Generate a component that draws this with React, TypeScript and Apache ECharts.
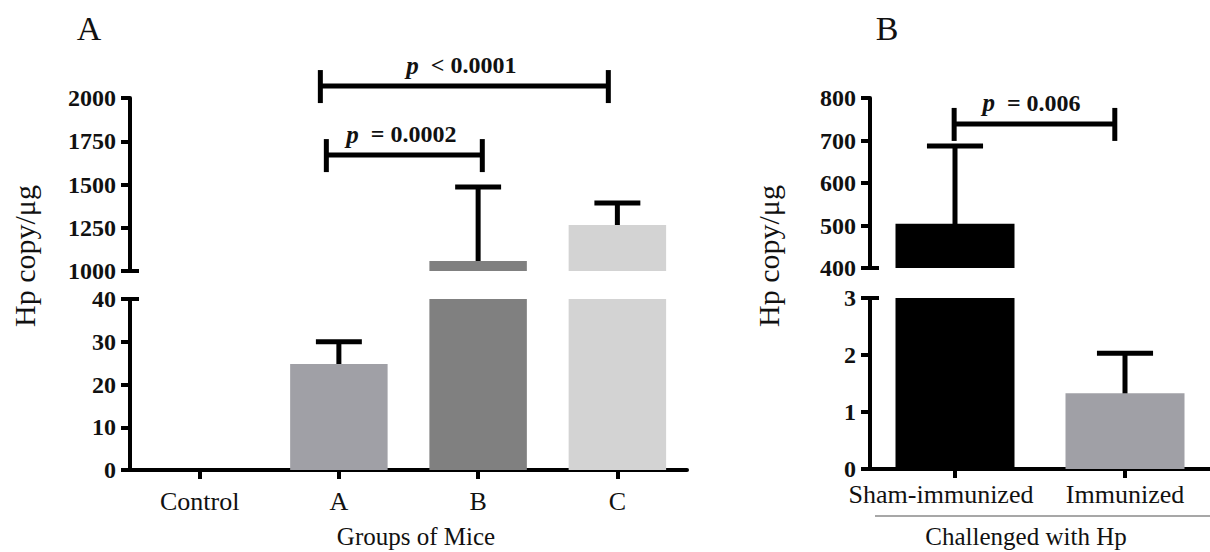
import React, { useEffect, useRef } from 'react';
import * as echarts from 'echarts';

// ---------- data ----------
const groupsA = ['Control', 'A', 'B', 'C'];
const meansA = [0, 24.8, 1058, 1266];
const upperA = [0, 30, 1486, 1393];
const colorsA = ['#ffffff', '#a0a0a6', '#808080', '#d3d3d3'];

const groupsB = ['Sham-immunized', 'Immunized'];
const meansB = [504, 1.33];
const upperB = [687, 2.03];
const colorsB = ['#000000', '#a0a0a6'];

// axis ranges [min, max, interval]
const rangeATop = [1000, 2000, 250];
const rangeABottom = [0, 40, 10];
const rangeBTop = [400, 800, 100];
const rangeBBottom = [0, 3, 1];

// significance brackets: from / to are category positions, y in data units
const bracketsAFrom = [0.867, 0.91];
const bracketsATo = [2.935, 2.03];
const bracketsAY = [2069, 1670];
const bracketsALabel = ['< 0.0001', '= 0.0002'];

const bracketsBFrom = [-0.005];
const bracketsBTo = [0.94];
const bracketsBY = [739];
const bracketsBLabel = ['= 0.006'];

// ---------- layout ----------
const FONT = '"Liberation Serif", "Times New Roman", serif';
const GA_TOP = { left: 130, top: 98, width: 557, height: 173 };
const GA_BOT = { left: 130, top: 299, width: 557, height: 171 };
const GB_TOP = { left: 870, top: 98, width: 346, height: 170 };
const GB_BOT = { left: 870, top: 298, width: 346, height: 171 };

function yAxisFor(gridIndex: number, r: number[]) {
  return {
    type: 'value',
    gridIndex,
    min: r[0],
    max: r[1],
    interval: r[2],
    splitLine: { show: false },
    axisLine: { show: true, lineStyle: { color: '#000', width: 4 } },
    axisTick: { show: true, length: 9, lineStyle: { color: '#000', width: 4 } },
    axisLabel: {
      color: '#111',
      fontFamily: FONT,
      fontWeight: 'bold',
      fontSize: 24,
      margin: 14,
      formatter: (v: number) => String(v),
    },
  };
}

function xAxisFor(gridIndex: number, cats: any[], show: boolean, labelMargin: number) {
  return {
    type: 'category',
    gridIndex,
    data: cats,
    show,
    axisLine: { show: true, onZero: false, lineStyle: { color: '#000', width: 4 } },
    axisTick: { show: true, alignWithLabel: true, length: 9, lineStyle: { color: '#000', width: 4 } },
    axisLabel: { color: '#111', fontFamily: FONT, fontSize: 26, margin: labelMargin, interval: 0 },
  };
}

function barSeries(gridIndex: number, means: number[], colors: string[]) {
  return {
    type: 'bar',
    xAxisIndex: gridIndex,
    yAxisIndex: gridIndex,
    barWidth: '70%',
    clip: true,
    data: means.map((v, i) => ({ value: v, itemStyle: { color: colors[i] } })),
  };
}

function errorSeries(gridIndex: number, means: number[], upper: number[], r: number[]) {
  const data: number[][] = [];
  means.forEach((m, i) => {
    if (upper[i] > m && m >= r[0] && m <= r[1]) data.push([i, m, upper[i]]);
  });
  return {
    type: 'custom',
    xAxisIndex: gridIndex,
    yAxisIndex: gridIndex,
    clip: false,
    data,
    renderItem: (params: any, api: any) => {
      const x = api.value(0);
      const lo = api.coord([x, api.value(1)]);
      const hi = api.coord([x, api.value(2)]);
      const bw = api.size([1, 0])[0];
      const half = bw * 0.165;
      const st = { stroke: '#000', lineWidth: 5 };
      return {
        type: 'group',
        children: [
          { type: 'line', shape: { x1: lo[0], y1: lo[1] + 2, x2: hi[0], y2: hi[1] }, style: st },
          { type: 'line', shape: { x1: hi[0] - half, y1: hi[1], x2: hi[0] + half, y2: hi[1] }, style: st },
        ],
      };
    },
  };
}

function bracketSeries(gridIndex: number, from: number[], to: number[], ys: number[], labels: string[]) {
  return {
    type: 'custom',
    xAxisIndex: gridIndex,
    yAxisIndex: gridIndex,
    clip: false,
    data: from.map((f, i) => [f, to[i], ys[i]]),
    renderItem: (params: any, api: any) => {
      const y = api.value(2);
      const bw = api.size([1, 0])[0];
      const toPx = (v: number) => {
        const i = Math.round(v);
        const p = api.coord([i, y]);
        return [p[0] + (v - i) * bw, p[1]];
      };
      const a = toPx(api.value(0));
      const b = toPx(api.value(1));
      const st = { stroke: '#000', lineWidth: 5 };
      const cx = (a[0] + b[0]) / 2 - 3;
      return {
        type: 'group',
        children: [
          { type: 'line', shape: { x1: a[0], y1: a[1], x2: b[0], y2: b[1] }, style: st },
          { type: 'line', shape: { x1: a[0], y1: a[1] - 16, x2: a[0], y2: a[1] + 17 }, style: st },
          { type: 'line', shape: { x1: b[0], y1: b[1] - 16, x2: b[0], y2: b[1] + 17 }, style: st },
          {
            type: 'text',
            x: cx,
            y: a[1] - 21,
            style: {
              text: '{i|p}  {n|' + labels[params.dataIndex] + '}',
              align: 'center',
              verticalAlign: 'middle',
              fontFamily: FONT,
              fontWeight: 'bold',
              fontSize: 24,
              rich: {
                i: { fontFamily: FONT, fontStyle: 'italic', fontWeight: 'bold', fontSize: 25, fill: '#111' },
                n: { fontFamily: FONT, fontWeight: 'bold', fontSize: 24, fill: '#111' },
              },
            },
          },
        ],
      };
    },
  };
}

function breakMarks(g1: any, g2: any) {
  const st = { stroke: '#000', lineWidth: 4 };
  const yTop = g1.top + g1.height;
  const yBot = g2.top;
  return [
    { type: 'line', shape: { x1: g1.left, y1: yTop, x2: g1.left + 9, y2: yTop }, style: st },
    { type: 'line', shape: { x1: g2.left, y1: yBot, x2: g2.left + 9, y2: yBot }, style: st },
  ];
}

function textG(text: string, x: number, y: number, size: number, rot = 0) {
  return {
    type: 'text',
    x,
    y,
    rotation: rot,
    style: {
      text,
      font: `${size}px ${FONT}`,
      fill: '#111',
      align: 'center',
      verticalAlign: 'middle',
    },
  };
}

export default function App() {
  const ref = useRef<HTMLDivElement>(null);
  useEffect(() => {
    if (!ref.current) return;
    const chart = echarts.init(ref.current, undefined, { renderer: 'svg' });
    const catsB = groupsB.map((g, i) =>
      i === 0 ? { value: g, textStyle: { padding: [0, 28, 0, 0] } } : g
    );
    chart.setOption({
      animation: false,
      backgroundColor: '#ffffff',
      grid: [GA_TOP, GA_BOT, GB_TOP, GB_BOT].map((g) => ({ ...g, containLabel: false })),
      xAxis: [
        xAxisFor(0, groupsA, false, 18),
        xAxisFor(1, groupsA, true, 18),
        xAxisFor(2, catsB, false, 12),
        xAxisFor(3, catsB, true, 12),
      ],
      yAxis: [
        yAxisFor(0, rangeATop),
        yAxisFor(1, rangeABottom),
        yAxisFor(2, rangeBTop),
        yAxisFor(3, rangeBBottom),
      ],
      series: [
        barSeries(0, meansA, colorsA),
        barSeries(1, meansA, colorsA),
        barSeries(2, meansB, colorsB),
        barSeries(3, meansB, colorsB),
        errorSeries(0, meansA, upperA, rangeATop),
        errorSeries(1, meansA, upperA, rangeABottom),
        errorSeries(2, meansB, upperB, rangeBTop),
        errorSeries(3, meansB, upperB, rangeBBottom),
        bracketSeries(0, bracketsAFrom, bracketsATo, bracketsAY, bracketsALabel),
        bracketSeries(2, bracketsBFrom, bracketsBTo, bracketsBY, bracketsBLabel),
      ],
      graphic: [
        ...breakMarks(GA_TOP, GA_BOT),
        ...breakMarks(GB_TOP, GB_BOT),
        textG('A', 89, 28, 34),
        textG('B', 887, 28, 34),
        textG('Hp copy/\u03bcg', 24, 256, 30, Math.PI / 2),
        textG('Hp copy/\u03bcg', 768, 256, 30, Math.PI / 2),
        textG('Groups of Mice', 416, 536, 25),
        textG('Challenged with Hp', 1026, 536, 25),
        {
          type: 'line',
          shape: { x1: 875, y1: 516, x2: 1210, y2: 516 },
          style: { stroke: '#8a8a8a', lineWidth: 1.5 },
        },
      ],
    });
    return () => chart.dispose();
  }, []);
  return (
    <div
      ref={ref}
      style={{ position: 'fixed', left: 0, top: 0, width: 1210, height: 552, background: '#fff' }}
    />
  );
}
